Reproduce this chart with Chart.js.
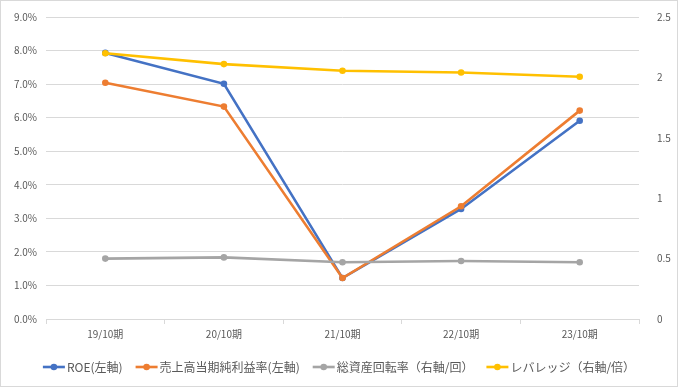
<!DOCTYPE html>
<html>
<head>
<meta charset="utf-8">
<script src="https://cdn.jsdelivr.net/npm/chart.js@4"></script>
<style>
  html, body { margin: 0; padding: 0; background: #fff; }
  #wrap { width: 676px; height: 385px; border: 1px solid #d9d9d9; }
</style>
</head>
<body>
<div id="wrap"><canvas id="c" width="676" height="385"></canvas></div>
<script>
const labels = ["19/10期", "20/10期", "21/10期", "22/10期", "23/10期"];
const roe = [7.93, 7.01, 1.22, 3.28, 5.91];
const netMargin = [7.04, 6.33, 1.22, 3.36, 6.21];
const assetTurnover = [0.50, 0.51, 0.47, 0.48, 0.47];
const leverage = [2.20, 2.11, 2.055, 2.04, 2.005];

const names = ["ROE(左軸)", "売上高当期純利益率(左軸)", "総資産回転率（右軸/回）", "レバレッジ（右軸/倍）"];
const colors = ["#4472C4", "#ED7D31", "#A5A5A5", "#FFC000"];
const FONT = "'Noto Sans CJK JP', 'Noto Sans', sans-serif";

function ds(i, data, axis) {
  return {
    label: names[i],
    data: data,
    yAxisID: axis,
    borderColor: colors[i],
    backgroundColor: colors[i],
    borderWidth: 2.6,
    pointRadius: 3.3,
    pointBorderWidth: 0,
    tension: 0,
    order: 4 - i
  };
}

// excel-ish legend: line + dot, then text, all centered in one row
const bottomLegend = {
  id: "bottomLegend",
  afterDraw(chart) {
    const ctx = chart.ctx;
    const y = 366;
    const iconW = 22, iconGap = 2, itemGap = 13;
    ctx.save();
    ctx.font = "12px " + FONT;
    ctx.textBaseline = "middle";
    const widths = chart.data.datasets.map(d => iconW + iconGap + ctx.measureText(d.label).width);
    const total = widths.reduce((a, b) => a + b, 0) + itemGap * (widths.length - 1);
    let x = (chart.width - total) / 2;
    chart.data.datasets.forEach((d, i) => {
      ctx.strokeStyle = d.borderColor;
      ctx.lineWidth = 2.6;
      ctx.beginPath(); ctx.moveTo(x, y); ctx.lineTo(x + iconW, y); ctx.stroke();
      ctx.fillStyle = d.borderColor;
      ctx.beginPath(); ctx.arc(x + iconW / 2, y, 3.3, 0, Math.PI * 2); ctx.fill();
      ctx.fillStyle = "#595959";
      ctx.fillText(d.label, x + iconW + iconGap, y);
      x += widths[i] + itemGap;
    });
    ctx.restore();
  }
};

new Chart(document.getElementById("c"), {
  type: "line",
  data: {
    labels: labels,
    datasets: [
      ds(0, roe, "y"),
      ds(1, netMargin, "y"),
      ds(2, assetTurnover, "y2"),
      ds(3, leverage, "y2")
    ]
  },
  plugins: [bottomLegend],
  options: {
    responsive: false,
    animation: false,
    layout: { padding: { top: 15, left: 0, right: 0, bottom: 37 } },
    plugins: {
      tooltip: { enabled: false },
      legend: { display: false }
    },
    scales: {
      x: {
        offset: true,
        grid: { display: true, drawOnChartArea: false, offset: true, color: "#d9d9d9", tickLength: 5 },
        border: { color: "#d9d9d9" },
        ticks: { color: "#595959", font: { family: FONT, size: 10 }, padding: 4 },
        afterFit: function (s) { s.height = 30; }
      },
      y: {
        position: "left",
        min: 0, max: 9,
        ticks: {
          stepSize: 1,
          color: "#595959",
          font: { family: FONT, size: 10 },
          padding: 9,
          callback: v => v.toFixed(1) + "%"
        },
        grid: { color: "#d9d9d9", drawTicks: false },
        border: { display: false },
        afterFit: function (s) { s.width = 45; }
      },
      y2: {
        position: "right",
        min: 0, max: 2.5,
        ticks: {
          stepSize: 0.5,
          color: "#595959",
          font: { family: FONT, size: 10 },
          padding: 10,
          callback: v => String(v)
        },
        grid: { display: false },
        border: { display: false },
        afterFit: function (s) { s.width = 38; }
      }
    }
  }
});
</script>
</body>
</html>
